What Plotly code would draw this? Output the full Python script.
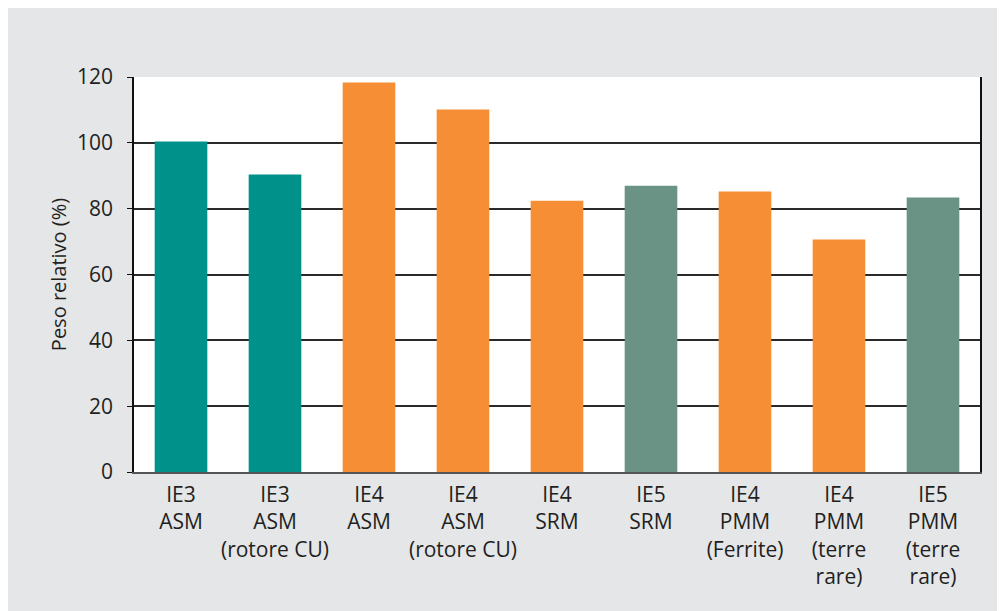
import plotly.graph_objects as go

categories = [
    "IE3<br>ASM",
    "IE3<br>ASM<br>(rotore CU)",
    "IE4<br>ASM",
    "IE4<br>ASM<br>(rotore CU)",
    "IE4<br>SRM",
    "IE5<br>SRM",
    "IE4<br>PMM<br>(Ferrite)",
    "IE4<br>PMM<br>(terre<br>rare)",
    "IE5<br>PMM<br>(terre<br>rare)",
]
values = [100.4, 90.4, 118.3, 110.1, 82.4, 87.0, 85.2, 70.6, 83.4]
bar_colors = ["#00918a", "#00918a", "#f58e34", "#f58e34", "#f58e34",
              "#6a9386", "#f58e34", "#f58e34", "#6a9386"]
y_ticks = [0, 20, 40, 60, 80, 100, 120]

FONT = "Open Sans"
TXT = "#231f20"

fig = go.Figure(go.Bar(x=categories, y=values, marker=dict(color=bar_colors, line_width=0)))

fig.update_layout(
    width=1005, height=611,
    margin=dict(l=126, r=33, t=69, b=147, autoexpand=False),
    paper_bgcolor="#e5e6e8",
    plot_bgcolor="#ffffff",
    bargap=0.44,
    showlegend=False,
    font=dict(family=FONT, color=TXT, size=21),
)
fig.update_xaxes(
    showgrid=False, showline=True, linecolor="#555555", linewidth=1.5,
    ticks="", ticklabelstandoff=3, tickfont=dict(size=21, family=FONT, color=TXT),
)
fig.update_yaxes(
    range=[0, 120], tickvals=y_ticks, showgrid=True, gridcolor="#2a2a2a", gridwidth=1.5,
    showline=True, linecolor="#111111", linewidth=1.5, mirror=True,
    ticks="outside", ticklen=5, tickcolor="#111111", tickwidth=1.2,
    ticklabelstandoff=10,
    tickfont=dict(size=21, family=FONT, color=TXT), zeroline=False,
    title=dict(text="Peso relativo (%)", font=dict(size=20, family=FONT, color=TXT), standoff=5),
)

fig.write_html("out.html")
